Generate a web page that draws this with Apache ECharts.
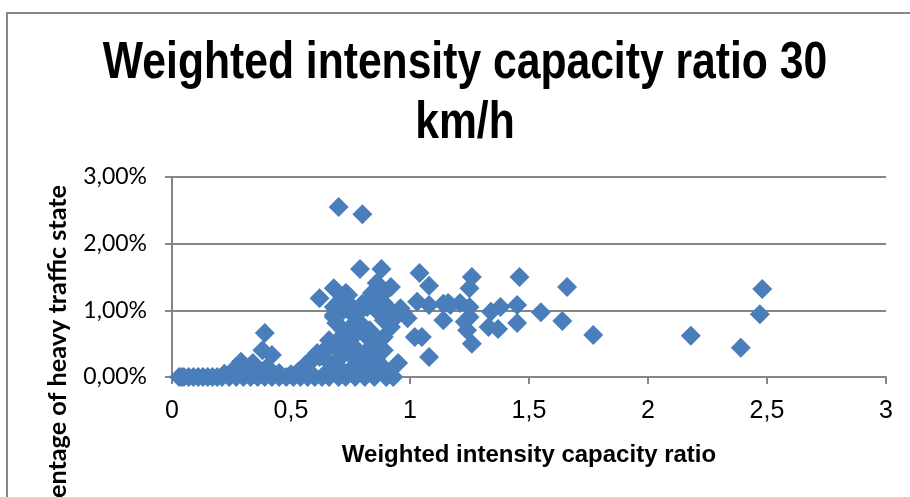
<!DOCTYPE html>
<html>
<head>
<meta charset="utf-8">
<script src="https://cdn.jsdelivr.net/npm/echarts@6/dist/echarts.min.js"></script>
<style>html,body{margin:0;padding:0;background:#fff}#c{width:910px;height:497px}</style>
</head>
<body>
<div id="c"></div>
<script>
const titleLine1 = "Weighted intensity capacity ratio 30";
const titleLine2 = "km/h";
const xAxisTitle = "Weighted intensity capacity ratio";
const yAxisTitle = "Percentage of heavy traffic state";
const xTicks = [0, 0.5, 1, 1.5, 2, 2.5, 3];
const yTicks = [0, 1, 2, 3];

// weighted intensity capacity ratio
const ratio = [
  0.70,0.80,0.79,0.88,0.62,0.68,0.73,0.74,0.70,0.74,0.68,0.68,0.68,0.72,0.75,0.86,0.86,0.92,0.84,0.83,
  0.82,0.87,0.89,0.87,0.93,0.96,0.89,0.89,0.94,0.97,0.99,0.92,0.89,0.89,0.95,0.93,0.69,0.75,0.79,0.83,
  0.71,0.76,0.82,0.87,0.68,0.74,0.78,0.83,0.62,0.58,0.65,0.71,0.76,0.82,0.86,0.90,0.78,0.80,0.80,0.72,
  0.66,0.64,0.70,0.78,0.85,0.66,0.74,
  1.04,1.08,1.14,1.03,1.08,1.16,1.14,1.02,1.05,1.08,1.26,1.25,1.46,1.66,1.17,1.21,1.25,1.25,1.23,1.24,
  1.26,1.34,1.38,1.33,1.37,1.45,1.45,1.55,1.64,1.77,2.18,2.39,2.48,2.47,
  0.39,0.38,0.42,0.29,0.34,0.27,0.40,0.59,0.56,0.61,0.22,0.31,0.45,0.50,0.53,0.35,
  0.03,0.04,0.05,0.07,0.09,0.11,0.13,0.15,0.17,0.19,0.21,0.24,0.27,0.30,0.33,0.36,0.39,0.42,0.45,0.48,
  0.51,0.54,0.57,0.60,0.63,0.66,0.70,0.73,0.77,0.81,0.85,0.90
];
// percentage of heavy traffic state (%)
const heavyShare = [
  2.55,2.44,1.62,1.62,1.18,1.33,1.26,1.23,1.12,1.11,1.05,0.93,0.90,1.00,0.97,1.41,1.30,1.35,1.26,1.15,
  1.05,1.05,1.11,0.96,0.96,1.03,1.26,0.85,0.90,0.97,0.88,0.75,0.60,0.40,0.21,0.00,0.81,0.75,0.81,0.70,
  0.60,0.60,0.60,0.55,0.45,0.45,0.40,0.43,0.30,0.22,0.25,0.30,0.30,0.25,0.25,0.10,0.95,1.10,0.70,0.70,
  0.55,0.40,0.15,0.15,0.12,0.10,0.08,
  1.56,1.37,1.10,1.13,1.08,1.11,0.85,0.60,0.60,0.30,1.50,1.33,1.50,1.35,1.08,1.11,1.05,0.90,0.83,0.70,
  0.50,0.98,1.05,0.75,0.72,1.08,0.81,0.97,0.84,0.63,0.62,0.44,1.32,0.94,
  0.66,0.40,0.33,0.23,0.21,0.15,0.15,0.28,0.18,0.36,0.05,0.08,0.06,0.04,0.08,0.05,
  0,0,0,0,0,0,0,0,0,0,0,0,0,0,0,0,0,0,0,0,
  0,0,0,0,0,0,0,0,0,0,0,0
];

const points = ratio.map((x, i) => [x, heavyShare[i]]);
const fmtComma = v => String(v).replace('.', ',');
const sans = "'Liberation Sans', Arial, sans-serif";
const lato = "Lato, 'Open Sans', sans-serif";

const chart = echarts.init(document.getElementById('c'), null, {renderer: 'canvas'});
chart.setOption({
  animation: false,
  backgroundColor: '#ffffff',
  grid: {left: 172, right: 24, top: 177, bottom: 120, containLabel: false},
  xAxis: {
    type: 'value', min: xTicks[0], max: xTicks[xTicks.length - 1], interval: 0.5,
    name: xAxisTitle, nameLocation: 'middle', nameGap: 66,
    nameTextStyle: {fontFamily: sans, fontWeight: 'bold', fontSize: 24, color: '#000'},
    axisLine: {onZero: false, lineStyle: {color: '#868686', width: 2}},
    axisTick: {show: true, inside: false, length: 7, lineStyle: {color: '#868686', width: 2}},
    axisLabel: {margin: 22, fontFamily: sans, fontSize: 25, color: '#000', formatter: v => fmtComma(v)},
    splitLine: {show: false}
  },
  yAxis: {
    type: 'value', min: yTicks[0], max: yTicks[yTicks.length - 1], interval: 1,
    axisLine: {show: true, lineStyle: {color: '#868686', width: 2}},
    axisTick: {show: true, inside: false, length: 7, lineStyle: {color: '#868686', width: 2}},
    axisLabel: {margin: 25, fontFamily: lato, fontSize: 23, color: '#000',
      formatter: v => v.toFixed(2).replace('.', ',') + '%'},
    splitLine: {show: true, lineStyle: {color: '#868686', width: 2}}
  },
  graphic: [
    {type: 'rect', shape: {x: 7, y: 13, width: 1000, height: 1000}, style: {fill: 'none', stroke: '#868686', lineWidth: 2}, silent: true, z: -1},
    {type: 'text', x: 465, y: 64, scaleX: 0.82,
      style: {text: titleLine1, fontFamily: sans, fontWeight: 'bold', fontSize: 52, fill: '#000', textAlign: 'center', textVerticalAlign: 'middle'}},
    {type: 'text', x: 465, y: 124, scaleX: 0.82,
      style: {text: titleLine2, fontFamily: sans, fontWeight: 'bold', fontSize: 52, fill: '#000', textAlign: 'center', textVerticalAlign: 'middle'}},
    {type: 'text', x: 58, y: 185, rotation: Math.PI / 2, scaleX: 1.05,
      style: {text: yAxisTitle, fontFamily: lato, fontWeight: 'bold', fontSize: 24, fill: '#000', textAlign: 'right', textVerticalAlign: 'middle'}}
  ],
  series: [{
    type: 'scatter',
    symbol: 'diamond',
    symbolSize: 20,
    itemStyle: {color: '#4A7EBB', opacity: 1},
    data: points
  }]
});
</script>
</body>
</html>
